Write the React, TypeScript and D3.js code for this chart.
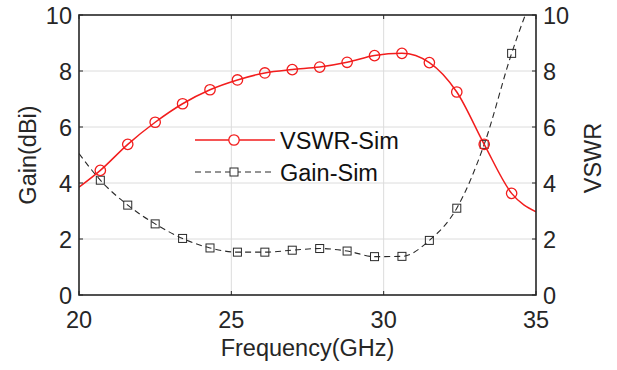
import React from "react";
import * as d3 from "d3";

const markerFreq = [20.7, 21.6, 22.5, 23.4, 24.3, 25.2, 26.1, 27.0, 27.9, 28.8, 29.7, 30.6, 31.5, 32.4, 33.3, 34.2];
const redSeries = [4.45, 5.38, 6.17, 6.83, 7.33, 7.68, 7.93, 8.05, 8.14, 8.31, 8.55, 8.63, 8.3, 7.25, 5.38, 3.63];
const redStart = 3.85;
const redEnd = 2.97;
const blackSeries = [4.1, 3.21, 2.54, 2.02, 1.68, 1.53, 1.53, 1.6, 1.66, 1.57, 1.37, 1.38, 1.95, 3.1, 5.38, 8.63];
const blackStart = 5.05;
const blackEnd = 11.0;
const xTicks = [20, 25, 30, 35];
const yTicks = [0, 2, 4, 6, 8, 10];
const legendLabels = ["VSWR-Sim", "Gain-Sim"];
const xLabel = "Frequency(GHz)";
const yLabelLeft = "Gain(dBi)";
const yLabelRight = "VSWR";

const W = 617;
const H = 370;
const L = 79;
const R = 536;
const T = 15;
const B = 295;
const FONT = "'Liberation Sans', Arial, Helvetica, sans-serif";
const AXIS = "#262626";
const RED = "#f21d1d";
const BLACK = "#2a2a2a";

export default function App() {
  const x = d3.scaleLinear().domain([20, 35]).range([L, R]);
  const y = d3.scaleLinear().domain([0, 10]).range([B, T]);
  const yR = d3.scaleLinear().domain([0, 10]).range([B, T]);

  const redPts: [number, number][] = [[20, redStart], ...markerFreq.map((f, i) => [f, redSeries[i]] as [number, number]), [35, redEnd]];
  const blackPts: [number, number][] = [[20, blackStart], ...markerFreq.map((f, i) => [f, blackSeries[i]] as [number, number]), [35, blackEnd]];

  const line = d3
    .line<[number, number]>()
    .x((d) => x(d[0]))
    .y((d) => y(d[1]))
    .curve(d3.curveMonotoneX);
  const lineR = d3
    .line<[number, number]>()
    .x((d) => x(d[0]))
    .y((d) => yR(d[1]))
    .curve(d3.curveMonotoneX);

  const fs = 23.5;

  return (
    <div style={{ position: "fixed", left: 0, top: 0 }}>
      <svg width={W} height={H} style={{ display: "block", background: "#fff" }} fontFamily={FONT}>
        <defs>
          <clipPath id="plotclip">
            <rect x={L} y={T} width={R - L} height={B - T} />
          </clipPath>
        </defs>
        <rect x={0} y={0} width={W} height={H} fill="#fff" />
        {xTicks.slice(1, -1).map((t) => (
          <line key={"gx" + t} x1={x(t)} x2={x(t)} y1={T} y2={B} stroke="#dcdcdc" strokeWidth={1} />
        ))}
        {yTicks.slice(1, -1).map((t) => (
          <line key={"gy" + t} x1={L} x2={R} y1={y(t)} y2={y(t)} stroke="#dcdcdc" strokeWidth={1} />
        ))}
        <g clipPath="url(#plotclip)">
          <path d={lineR(blackPts) || ""} fill="none" stroke={BLACK} strokeWidth={1.1} strokeDasharray="6,4" />
          <path d={line(redPts) || ""} fill="none" stroke={RED} strokeWidth={1.5} />
        </g>
        {markerFreq.map((f, i) => (
          <rect key={"sq" + i} x={x(f) - 4} y={yR(blackSeries[i]) - 4} width={8} height={8} fill="none" stroke={BLACK} strokeWidth={1} />
        ))}
        {markerFreq.map((f, i) => (
          <circle key={"c" + i} cx={x(f)} cy={y(redSeries[i])} r={5.2} fill="none" stroke={RED} strokeWidth={1.3} />
        ))}
        <rect x={L} y={T} width={R - L} height={B - T} fill="none" stroke={AXIS} strokeWidth={1.6} />
        {xTicks.map((t) => (
          <g key={"xt" + t}>
            <line x1={x(t)} x2={x(t)} y1={B} y2={B - 4} stroke={AXIS} strokeWidth={1} />
            <line x1={x(t)} x2={x(t)} y1={T} y2={T + 4} stroke={AXIS} strokeWidth={1} />
            <text x={x(t)} y={328} textAnchor="middle" fontSize={fs} fill={AXIS}>
              {t}
            </text>
          </g>
        ))}
        {yTicks.map((t) => (
          <g key={"yt" + t}>
            <line x1={L} x2={L + 4} y1={y(t)} y2={y(t)} stroke={AXIS} strokeWidth={1} />
            <text x={72} y={y(t) + 8.5} textAnchor="end" fontSize={fs} fill={AXIS}>
              {t}
            </text>
          </g>
        ))}
        {yTicks.map((t) => (
          <g key={"yr" + t}>
            <line x1={R} x2={R - 4} y1={yR(t)} y2={yR(t)} stroke={AXIS} strokeWidth={1} />
            <text x={543} y={yR(t) + 8.5} textAnchor="start" fontSize={fs} fill={AXIS}>
              {t}
            </text>
          </g>
        ))}
        <text x={(L + R) / 2} y={356} textAnchor="middle" fontSize={fs} fill={AXIS}>
          {xLabel}
        </text>
        <text transform={`translate(36,${(T + B) / 2}) rotate(-90)`} textAnchor="middle" fontSize={fs} fill={AXIS}>
          {yLabelLeft}
        </text>
        <text transform={`translate(601,${(T + B) / 2 + 3}) rotate(-90)`} textAnchor="middle" fontSize={fs} fill={AXIS}>
          {yLabelRight}
        </text>
        <g>
          <line x1={195} x2={275} y1={140} y2={140} stroke={RED} strokeWidth={1.5} />
          <circle cx={234} cy={140} r={5.2} fill="#fff" stroke={RED} strokeWidth={1.3} />
          <text x={280} y={148.5} fontSize={fs} fill="#111">
            {legendLabels[0]}
          </text>
          <line x1={195} x2={275} y1={172} y2={172} stroke={BLACK} strokeWidth={1.1} strokeDasharray="6,4" />
          <rect x={230} y={168} width={8} height={8} fill="#fff" stroke={BLACK} strokeWidth={1} />
          <text x={280} y={180.5} fontSize={fs} fill="#111">
            {legendLabels[1]}
          </text>
        </g>
      </svg>
    </div>
  );
}
